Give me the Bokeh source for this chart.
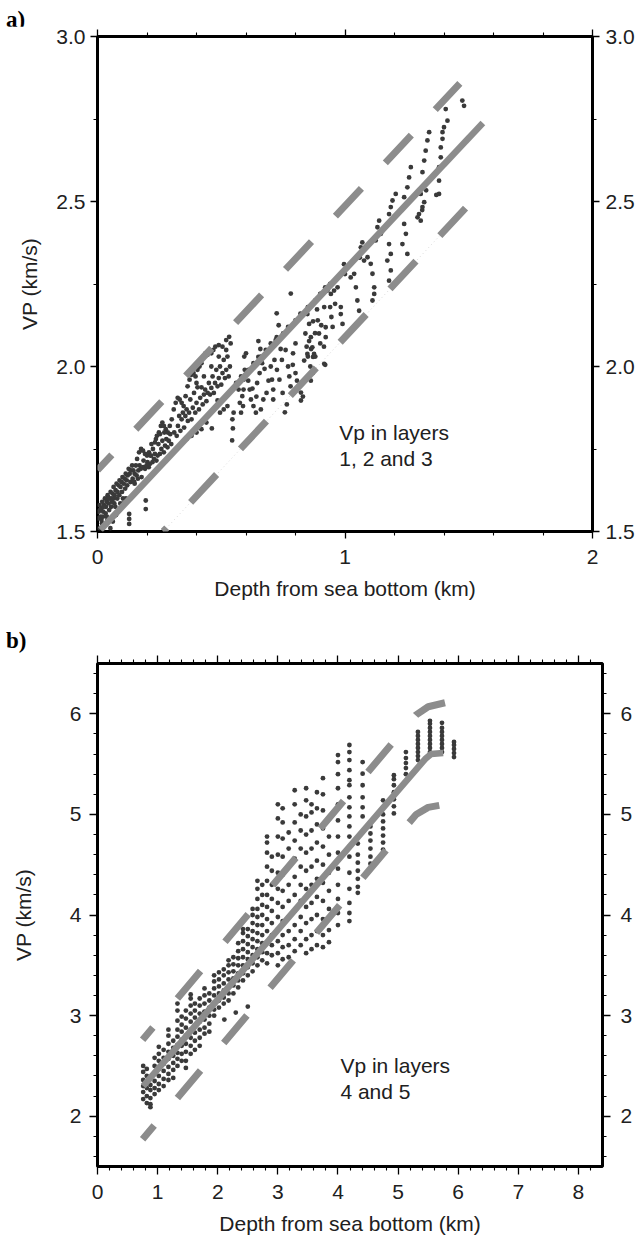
from bokeh.plotting import figure
from bokeh.layouts import column
from bokeh.models import FixedTicker, Label, LinearAxis, Range1d, NumeralTickFormatter, Div
from bokeh.embed import file_html
from bokeh.resources import INLINE

FONT = "Liberation Sans"
TXT = "#202020"
DOT = "#3a3a3a"
GREY = "#8c8c8c"
FS = "21px"

# ---------------- panel a data ----------------
a_x_ticks = [0, 1, 2]
a_x_minor = [0.2, 0.4, 0.6, 0.8, 1.2, 1.4, 1.6, 1.8]
a_y_ticks = [1.5, 2.0, 2.5, 3.0]
a_y_minor = [1.75, 2.25, 2.75]

a_shallow = [
    (0.003, 1.54), (0.005, 1.56), (0.008, 1.58), (0.012, 1.545), (0.015, 1.57), (0.019, 1.59),
    (0.023, 1.56), (0.026, 1.58), (0.030, 1.60), (0.034, 1.575), (0.037, 1.59), (0.041, 1.61),
    (0.045, 1.585), (0.049, 1.60), (0.053, 1.62), (0.057, 1.60), (0.061, 1.615), (0.065, 1.635),
    (0.069, 1.61), (0.073, 1.625), (0.077, 1.645), (0.081, 1.62), (0.085, 1.64), (0.089, 1.655),
    (0.093, 1.635), (0.097, 1.65), (0.101, 1.665), (0.106, 1.645), (0.110, 1.66), (0.114, 1.675),
    (0.118, 1.655), (0.122, 1.67), (0.126, 1.69), (0.130, 1.675), (0.135, 1.685), (0.140, 1.70),
    (0.145, 1.685), (0.150, 1.675),
    (0.008, 1.51), (0.018, 1.525), (0.028, 1.52), (0.040, 1.535), (0.052, 1.51), (0.062, 1.53),
    (0.075, 1.55), (0.087, 1.565), (0.128, 1.523), (0.128, 1.538), (0.128, 1.553), (0.195, 1.568),
    (0.195, 1.594), (0.105, 1.585), (0.115, 1.60), (0.022, 1.545), (0.047, 1.565), (0.068, 1.585),
    (0.160, 1.72), (0.168, 1.74), (0.176, 1.75), (0.184, 1.745), (0.192, 1.735), (0.200, 1.73),
    (0.208, 1.74), (0.216, 1.73), (0.224, 1.75), (0.232, 1.77), (0.240, 1.79), (0.248, 1.80),
    (0.256, 1.82), (0.262, 1.83), (0.268, 1.82), (0.276, 1.81), (0.284, 1.80), (0.292, 1.82),
    (0.300, 1.84),
    (0.150, 1.645), (0.163, 1.66), (0.178, 1.665), (0.192, 1.69), (0.207, 1.695), (0.222, 1.71),
    (0.238, 1.715), (0.252, 1.735), (0.268, 1.74), (0.283, 1.755), (0.298, 1.765),
    (0.170, 1.70), (0.186, 1.715), (0.202, 1.71), (0.214, 1.73), (0.232, 1.735), (0.246, 1.765),
    (0.262, 1.775), (0.278, 1.78), (0.294, 1.795),
    (0.010, 1.565), (0.016, 1.535), (0.024, 1.575), (0.033, 1.555), (0.038, 1.545), (0.044, 1.60),
    (0.055, 1.575), (0.059, 1.59), (0.066, 1.60), (0.072, 1.575), (0.080, 1.60), (0.088, 1.61),
    (0.092, 1.585), (0.099, 1.62), (0.103, 1.60), (0.112, 1.63), (0.120, 1.64), (0.133, 1.65),
    (0.142, 1.66), (0.148, 1.65), (0.155, 1.70), (0.158, 1.67),
    (0.165, 1.685), (0.175, 1.69), (0.185, 1.695), (0.198, 1.70), (0.212, 1.705), (0.228, 1.72),
    (0.243, 1.73), (0.258, 1.75), (0.273, 1.76), (0.288, 1.775), (0.218, 1.765), (0.236, 1.78),
    (0.252, 1.795), (0.270, 1.80),
]

a_middle = [
    (0.308, 1.87), (0.316, 1.89), (0.324, 1.905), (0.332, 1.90), (0.340, 1.89), (0.348, 1.88),
    (0.356, 1.91), (0.364, 1.94), (0.372, 1.96), (0.380, 1.975), (0.388, 1.98), (0.396, 1.97),
    (0.404, 1.99), (0.412, 2.00), (0.420, 2.01), (0.428, 2.03), (0.436, 2.04), (0.444, 2.035),
    (0.452, 2.05), (0.460, 2.04), (0.468, 2.05), (0.476, 2.06), (0.490, 2.065), (0.505, 2.06),
    (0.520, 2.08), (0.532, 2.09), (0.538, 2.07),
    (0.320, 1.79), (0.335, 1.805), (0.350, 1.815), (0.365, 1.835), (0.380, 1.84), (0.395, 1.86),
    (0.410, 1.87), (0.425, 1.885), (0.440, 1.895), (0.455, 1.915), (0.470, 1.92), (0.485, 1.94),
    (0.500, 1.945), (0.515, 1.965), (0.530, 1.97),
    (0.330, 1.85), (0.345, 1.86), (0.360, 1.87), (0.375, 1.90), (0.390, 1.92), (0.404, 1.937),
    (0.420, 1.937), (0.435, 1.93), (0.450, 1.95), (0.465, 1.97), (0.480, 1.99), (0.495, 2.00),
    (0.510, 2.02), (0.525, 2.03),
    (0.360, 1.78), (0.380, 1.79), (0.400, 1.80), (0.420, 1.81), (0.440, 1.83), (0.462, 1.8125),
    (0.485, 1.897), (0.495, 1.86), (0.510, 1.87), (0.525, 1.88), (0.544, 1.776), (0.547, 1.8125),
    (0.545, 1.84), (0.550, 1.86),
    (0.585, 1.91), (0.590, 1.93), (0.593, 2.03), (0.600, 2.04), (0.595, 1.99), (0.590, 1.96),
    (0.588, 1.88),
    (0.609, 1.957), (0.626, 1.933), (0.642, 1.909), (0.650, 2.077), (0.658, 2.053), (0.650, 2.029),
    (0.665, 2.01), (0.675, 1.993), (0.691, 1.957), (0.683, 1.92), (0.670, 1.90), (0.660, 1.87),
    (0.640, 1.86),
    (0.724, 2.089), (0.724, 2.161), (0.732, 2.125), (0.740, 2.053), (0.745, 2.02), (0.757, 1.861),
    (0.765, 1.885), (0.748, 1.92), (0.735, 1.96), (0.725, 1.99), (0.715, 2.02),
    (0.781, 2.221),
    (0.789, 2.005), (0.806, 1.957), (0.822, 1.921), (0.830, 1.909), (0.822, 1.897), (0.800, 1.98),
    (0.790, 2.04), (0.800, 2.07),
    (0.855, 2.077), (0.863, 2.053), (0.871, 2.029), (0.871, 2.137), (0.887, 2.173), (0.879, 2.101),
    (0.904, 2.125), (0.920, 2.005), (0.915, 2.06), (0.880, 2.03), (0.860, 2.00), (0.870, 1.98),
    (0.560, 1.95), (0.580, 1.97), (0.610, 1.99), (0.630, 2.01), (0.660, 2.03), (0.680, 2.05),
    (0.700, 2.07), (0.720, 2.08), (0.750, 2.10), (0.770, 2.12), (0.800, 2.14), (0.820, 2.16),
    (0.850, 2.18), (0.880, 2.20), (0.900, 2.22), (0.920, 2.24), (0.940, 2.25),
    (0.310, 1.80), (0.325, 1.82), (0.340, 1.84), (0.355, 1.85), (0.370, 1.86), (0.385, 1.875),
    (0.400, 1.89), (0.415, 1.905), (0.430, 1.915), (0.445, 1.92), (0.460, 1.935), (0.475, 1.95),
    (0.490, 1.965), (0.505, 1.98), (0.520, 1.99), (0.535, 2.00), (0.400, 1.95), (0.430, 1.97),
    (0.460, 2.00), (0.490, 2.03), (0.520, 2.05),
    (0.570, 1.93), (0.575, 1.89), (0.580, 1.86), (0.615, 1.93), (0.620, 1.90), (0.630, 1.88),
    (0.645, 1.95), (0.655, 1.98), (0.700, 2.00), (0.705, 1.96), (0.710, 1.93), (0.710, 1.90),
    (0.760, 2.05), (0.770, 2.00), (0.775, 1.97), (0.780, 1.94), (0.840, 2.10), (0.845, 2.06),
    (0.850, 2.03), (0.890, 2.14), (0.895, 2.10), (0.900, 2.07), (0.940, 2.18), (0.945, 2.15),
    (0.950, 2.12), (0.960, 2.19),
]

a_deep = [
    (0.848, 2.159), (0.855, 2.129), (0.862, 2.089), (0.868, 2.058), (0.875, 2.038), (0.848, 2.038),
    (0.835, 2.018), (0.862, 1.957), (0.916, 2.008),
    (0.902, 2.22), (0.916, 2.18), (0.929, 2.23), (0.943, 2.22), (0.956, 2.23), (0.970, 2.24),
    (0.922, 2.119), (0.922, 2.089),
    (0.983, 2.18), (0.983, 2.159), (0.990, 2.129), (0.996, 2.31), (1.010, 2.30), (1.023, 2.27),
    (1.037, 2.281), (1.044, 2.24), (1.050, 2.20), (1.057, 2.169),
    (1.070, 2.376), (1.064, 2.361), (1.057, 2.331), (1.077, 2.321), (1.091, 2.331), (1.104, 2.311),
    (1.111, 2.281), (1.118, 2.24), (1.118, 2.22), (1.111, 2.20),
    (1.138, 2.442), (1.131, 2.422), (1.145, 2.402), (1.124, 2.382),
    (1.178, 2.371), (1.185, 2.341), (1.171, 2.321), (1.185, 2.291), (1.178, 2.26),
    (1.205, 2.523), (1.192, 2.503), (1.185, 2.483), (1.178, 2.462),
    (1.239, 2.432), (1.246, 2.402), (1.232, 2.371), (1.252, 2.341),
    (1.266, 2.604), (1.259, 2.573), (1.252, 2.543), (1.239, 2.513),
    (1.306, 2.523), (1.313, 2.483), (1.299, 2.462), (1.293, 2.452), (1.306, 2.442),
    (1.340, 2.71), (1.333, 2.685), (1.326, 2.654), (1.320, 2.624), (1.313, 2.589),
    (1.400, 2.725), (1.394, 2.71), (1.394, 2.69), (1.387, 2.664), (1.387, 2.634), (1.380, 2.604),
    (1.380, 2.563), (1.380, 2.523),
    (1.407, 2.78), (1.414, 2.745), (1.474, 2.806), (1.481, 2.79),
    (1.312, 2.474), (1.320, 2.498), (1.328, 2.534), (1.369, 2.52),
    (1.000, 2.28), (1.060, 2.33), (1.150, 2.41), (1.210, 2.46), (1.270, 2.51),
]

a_fit_depth = [0.012, 1.557]
a_fit_vp = [1.505, 2.738]
a_upper_depth = [0.0, 1.464]
a_upper_vp = [1.686, 2.858]
a_lower_depth = [0.266, 1.487]
a_lower_vp = [1.5, 2.48]

# ---------------- panel b data ----------------
b_x_ticks = [0, 1, 2, 3, 4, 5, 6, 7, 8]
b_x_minor = [0.2, 0.4, 0.6, 0.8, 1.2, 1.4, 1.6, 1.8, 2.2, 2.4, 2.6, 2.8, 3.2, 3.4, 3.6, 3.8,
             4.2, 4.4, 4.6, 4.8, 5.2, 5.4, 5.6, 5.8, 6.2, 6.4, 6.6, 6.8, 7.2, 7.4, 7.6, 7.8, 8.2]
b_y_ticks = [2, 3, 4, 5, 6]
b_y_minor = [1.6, 1.8, 2.2, 2.4, 2.6, 2.8, 3.2, 3.4, 3.6, 3.8, 4.2, 4.4, 4.6, 4.8,
             5.2, 5.4, 5.6, 5.8, 6.2, 6.4]

b_col_depth = [0.76, 0.82, 0.88, 0.95, 1.02, 1.10, 1.18, 1.26, 1.33, 1.40, 1.47, 1.55, 1.62,
               1.70, 1.78, 1.86, 1.94, 2.02, 2.10, 2.18, 2.26, 2.34, 2.42, 2.50, 2.58, 2.66,
               2.74, 2.82, 2.90, 3.00, 3.08, 3.18, 3.28, 3.38, 3.47, 3.56, 3.65, 3.75, 3.85,
               4.00, 4.19, 4.33, 4.41, 4.54, 4.75, 4.93, 5.13, 5.33, 5.53, 5.73, 5.93]
b_col_vp = [
    [2.17, 2.24, 2.30, 2.36, 2.44, 2.50],
    [2.13, 2.20, 2.28, 2.33, 2.40, 2.47],
    [2.09, 2.12, 2.18, 2.26, 2.31, 2.38],
    [2.22, 2.28, 2.35, 2.42, 2.50, 2.58],
    [2.26, 2.32, 2.40, 2.47, 2.55, 2.62, 2.69],
    [2.30, 2.37, 2.45, 2.52, 2.58, 2.66],
    [2.36, 2.42, 2.49, 2.57, 2.64, 2.72, 2.80, 2.86],
    [2.38, 2.46, 2.53, 2.60, 2.68, 2.75],
    [2.50, 2.57, 2.63, 2.71, 2.79, 2.86, 2.95, 3.05, 3.12],
    [2.55, 2.62, 2.70, 2.76, 2.84, 2.91, 2.99],
    [2.48, 2.55, 2.64, 2.72, 2.80, 2.88, 2.97, 3.05],
    [2.62, 2.70, 2.78, 2.86, 2.94, 3.02, 3.10, 3.17, 3.21],
    [2.66, 2.75, 2.83, 2.90, 2.98, 3.05, 3.12],
    [2.70, 2.78, 2.86, 2.94, 3.02, 3.10, 3.17],
    [2.82, 2.88, 2.96, 3.04, 3.12, 3.20, 3.27],
    [2.84, 2.92, 3.00, 3.08, 3.15, 3.22],
    [3.00, 3.06, 3.13, 3.20, 3.27, 3.34, 3.40],
    [3.08, 3.15, 3.22, 3.29, 3.36, 3.43],
    [3.12, 3.18, 3.25, 3.32, 3.40, 3.46],
    [3.15, 3.22, 3.29, 3.36, 3.43, 3.50, 3.55],
    [3.22, 3.30, 3.37, 3.44, 3.51, 3.58],
    [3.28, 3.35, 3.42, 3.50, 3.57, 3.64, 3.72],
    [3.35, 3.42, 3.50, 3.58, 3.66, 3.74, 3.82, 3.86],
    [3.40, 3.48, 3.56, 3.63, 3.71, 3.79, 3.86],
    [3.44, 3.52, 3.60, 3.68, 3.76, 3.84, 3.92, 4.00, 4.06],
    [3.50, 3.58, 3.66, 3.74, 3.82, 3.90, 3.98, 4.06, 4.16, 4.26, 4.34],
    [3.55, 3.63, 3.72, 3.80, 3.90, 4.00, 4.10, 4.20, 4.30],
    [3.52, 3.62, 3.72, 3.84, 3.96, 4.08, 4.20, 4.34, 4.48, 4.62, 4.72, 4.78],
    [3.60, 3.70, 3.80, 3.92, 4.04, 4.16, 4.30, 4.44, 4.58],
    [3.50, 3.62, 3.74, 3.86, 3.98, 4.12, 4.26, 4.42, 4.60, 4.78, 4.96, 5.10],
    [3.56, 3.68, 3.80, 3.94, 4.08, 4.24, 4.40, 4.58, 4.76, 4.92, 5.06],
    [3.58, 3.70, 3.84, 3.98, 4.14, 4.30, 4.48, 4.66, 4.82],
    [3.64, 3.76, 3.90, 4.04, 4.20, 4.38, 4.56, 4.74, 4.92, 5.10, 5.24],
    [3.70, 3.84, 3.98, 4.14, 4.30, 4.48, 4.66, 4.84, 5.00],
    [3.62, 3.76, 3.92, 4.08, 4.26, 4.44, 4.62, 4.80, 4.98, 5.14, 5.26],
    [3.66, 3.80, 3.96, 4.12, 4.30, 4.48, 4.66, 4.84, 5.02, 5.10],
    [3.70, 3.84, 4.00, 4.18, 4.36, 4.54, 4.72, 4.90, 5.06, 5.22],
    [3.68, 3.80, 3.96, 4.14, 4.32, 4.50, 4.68, 4.86, 5.04, 5.20, 5.36],
    [3.73, 3.85, 4.06, 4.24, 4.42, 4.60, 4.78],
    [3.90, 4.02, 4.16, 4.30, 4.46, 4.62, 4.78, 4.94, 5.10, 5.26, 5.40, 5.52, 5.59],
    [3.94, 4.02, 4.12, 4.26, 4.42, 4.58, 4.68, 4.78, 4.88, 4.98, 5.07, 5.17, 5.29, 5.34,
     5.44, 5.54, 5.62, 5.69],
    [4.22, 4.28, 4.36, 4.44, 4.52, 4.60, 4.71],
    [4.98, 5.07, 5.17, 5.29, 5.405, 5.52],
    [4.51, 4.58, 4.66, 4.74, 4.81, 4.88],
    [4.65, 4.72, 4.79, 4.86, 4.93, 5.00, 5.07, 5.14],
    [5.01, 5.08, 5.15, 5.22, 5.29, 5.35, 5.39],
    [5.40, 5.46, 5.51, 5.56, 5.62],
    [5.54, 5.58, 5.62, 5.66, 5.70, 5.74, 5.78, 5.82],
    [5.62, 5.66, 5.70, 5.74, 5.78, 5.82, 5.86, 5.90, 5.93],
    [5.62, 5.66, 5.70, 5.74, 5.78, 5.82, 5.86, 5.91],
    [5.57, 5.61, 5.65, 5.69, 5.72],
]
b_stray = [(2.11, 2.96), (2.30, 3.03), (2.50, 3.09)]

b_fit_depth = [0.76, 5.45, 5.55, 5.75]
b_fit_vp = [2.30, 5.55, 5.60, 5.61]
b_upper_depth = [0.75, 5.30, 5.50, 5.78]
b_upper_vp = [2.76, 5.99, 6.07, 6.11]
b_lower_depth = [0.75, 5.30, 5.50, 5.78]
b_lower_vp = [1.77, 5.00, 5.07, 5.10]


def add_axis(p, side, ticks, minor, fmt, show_labels=True, label=None, tmaj=7, tmin=4,
             standoff=6, label_standoff=10):
    ax = LinearAxis(ticker=FixedTicker(ticks=ticks, minor_ticks=minor),
                    formatter=NumeralTickFormatter(format=fmt))
    ax.axis_line_color = None
    ax.major_tick_out = tmaj
    ax.major_tick_in = 0
    ax.minor_tick_out = tmin
    ax.minor_tick_in = 0
    ax.major_tick_line_color = "black"
    ax.minor_tick_line_color = "black"
    ax.major_tick_line_width = 1.3
    ax.minor_tick_line_width = 1.1
    ax.major_label_text_font = FONT
    if show_labels:
        ax.major_label_text_font_size = FS
        ax.major_label_text_color = TXT
        ax.major_label_standoff = standoff
    else:
        ax.major_label_text_font_size = "1px"
        ax.major_label_text_color = None
        ax.major_label_standoff = 0
    if label:
        ax.axis_label = label
        ax.axis_label_text_font = FONT
        ax.axis_label_text_font_size = FS
        ax.axis_label_text_font_style = "normal"
        ax.axis_label_text_color = TXT
        ax.axis_label_standoff = label_standoff
    p.add_layout(ax, side)


def base_fig(fw, fh, xr, yr, left, right, top, bottom):
    p = figure(frame_width=fw, frame_height=fh, x_range=Range1d(*xr), y_range=Range1d(*yr),
               x_axis_location=None, y_axis_location=None, toolbar_location=None,
               output_backend="svg", min_border_left=left, min_border_right=right,
               min_border_top=top, min_border_bottom=bottom, margin=0)
    p.outline_line_color = "black"
    p.outline_line_width = 3
    p.grid.visible = False
    p.background_fill_color = "white"
    p.border_fill_color = "white"
    return p


def panel_tag(text, height, pad_top):
    html = ('<div style="font-family:\'Liberation Serif\',serif;font-weight:bold;'
            'font-size:23px;line-height:24px;color:#000;padding-left:6px;'
            'padding-top:%dpx;">%s</div>' % (pad_top, text))
    return Div(text=html, width=635, height=height, margin=0)


# ---------------- panel a ----------------
p1 = base_fig(495, 495, (0, 2), (1.5, 3.0), 97, 43, 10, 79)
add_axis(p1, "left", a_y_ticks, a_y_minor, "0.0", label="VP (km/s)", standoff=5, label_standoff=12)
add_axis(p1, "right", a_y_ticks, a_y_minor, "0.0", standoff=6)
add_axis(p1, "below", a_x_ticks, a_x_minor, "0", label="Depth from sea bottom (km)",
         standoff=11, label_standoff=10)
add_axis(p1, "above", a_x_ticks, a_x_minor, "0", show_labels=False)

a_pts = a_shallow + a_middle + a_deep
p1.scatter([q[0] for q in a_pts], [q[1] for q in a_pts], size=4.8, color=DOT, line_color=None)
p1.line(a_lower_depth, a_lower_vp, line_color="#d8d8d8", line_width=1, line_dash="1 3")
p1.line(a_fit_depth, a_fit_vp, line_color=GREY, line_width=6.5)
p1.line(a_upper_depth, a_upper_vp, line_color=GREY, line_width=7, line_dash="38 35",
        line_dash_offset=17)
p1.line(a_lower_depth, a_lower_vp, line_color=GREY, line_width=7, line_dash="38 35",
        line_dash_offset=33)

p1.add_layout(Label(x=0.977, y=1.80, text="Vp in layers", text_font=FONT, text_font_size=FS,
                    text_color=TXT, text_baseline="middle", text_align="left"))
p1.add_layout(Label(x=0.977, y=1.722, text="1, 2 and 3", text_font=FONT, text_font_size=FS,
                    text_color=TXT, text_baseline="middle", text_align="left"))

# ---------------- panel b ----------------
p2 = base_fig(505, 503, (0, 8.4), (1.5, 6.5), 95, 35, 10, 70)
add_axis(p2, "left", b_y_ticks, b_y_minor, "0", label="VP (km/s)", tmaj=8, tmin=4,
         standoff=8, label_standoff=32)
add_axis(p2, "right", b_y_ticks, b_y_minor, "0", tmaj=8, tmin=4, standoff=10)
add_axis(p2, "below", b_x_ticks, b_x_minor, "0", label="Depth from sea bottom (km)",
         tmaj=8, tmin=4, standoff=10, label_standoff=10)
add_axis(p2, "above", b_x_ticks, b_x_minor, "0", show_labels=False, tmaj=8, tmin=4)

bx, by = [], []
for d, vs in zip(b_col_depth, b_col_vp):
    for v in vs:
        bx.append(d)
        by.append(v)
for d, v in b_stray:
    bx.append(d)
    by.append(v)
p2.scatter(bx, by, size=4.8, color=DOT, line_color=None)
p2.line(b_fit_depth, b_fit_vp, line_color=GREY, line_width=6.5)
p2.line(b_upper_depth, b_upper_vp, line_color=GREY, line_width=7, line_dash="36 38",
        line_dash_offset=20)
p2.line(b_lower_depth, b_lower_vp, line_color=GREY, line_width=7, line_dash="36 36",
        line_dash_offset=18)

p2.add_layout(Label(x=4.04, y=2.503, text="Vp in layers", text_font=FONT, text_font_size=FS,
                    text_color=TXT, text_baseline="middle", text_align="left"))
p2.add_layout(Label(x=4.04, y=2.245, text="4 and 5", text_font=FONT, text_font_size=FS,
                    text_color=TXT, text_baseline="middle", text_align="left"))

tag_a = panel_tag("a)", 26, 8)
tag_b = panel_tag("b)", 43, 19)

layout = column(tag_a, p1, tag_b, p2, spacing=0)
open("out.html", "w").write(file_html(layout, INLINE))
